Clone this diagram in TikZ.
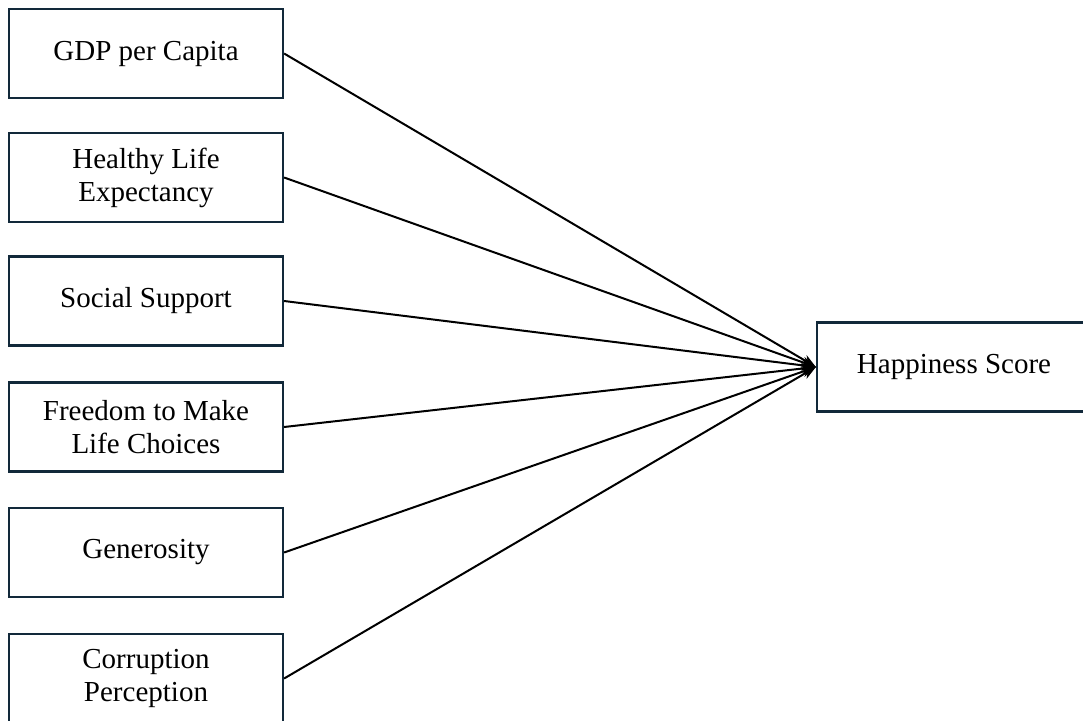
\documentclass[tikz,border=0pt]{standalone}
\usepackage{fontspec}
\setmainfont{Liberation Serif}
\usetikzlibrary{arrows.meta}
\definecolor{boxline}{HTML}{12293A}
\begin{document}
\begin{tikzpicture}[x=1pt,y=-1pt,
  factor/.style={draw=boxline,line width=2.2pt,fill=white,minimum width=274pt,minimum height=89pt,
    inner sep=0pt,align=center,font=\fontsize{29}{33}\selectfont},
  link/.style={draw=black,line width=2pt,-{Stealth[length=14pt,width=11pt]}}]
\useasboundingbox (0,0) rectangle (1083,720);
\clip (0,0) rectangle (1083,720);
\node[factor] (gdp) at (146,53.5) {GDP per Capita};
\node[factor] (hle) at (146,177.5) {Healthy Life\\Expectancy};
\node[factor] (ss) at (146,301) {Social Support};
\node[factor] (fr) at (146,427) {Freedom to Make\\Life Choices};
\node[factor] (gen) at (146,552.5) {Generosity};
\node[factor] (cp) at (146,678.5) {Corruption\\Perception};
\node[factor] (hs) at (954,367) {Happiness Score};
\foreach \n in {gdp,hle,ss,fr,gen,cp}
  \draw[link] (\n.east) -- (hs.west);
\end{tikzpicture}
\end{document}
